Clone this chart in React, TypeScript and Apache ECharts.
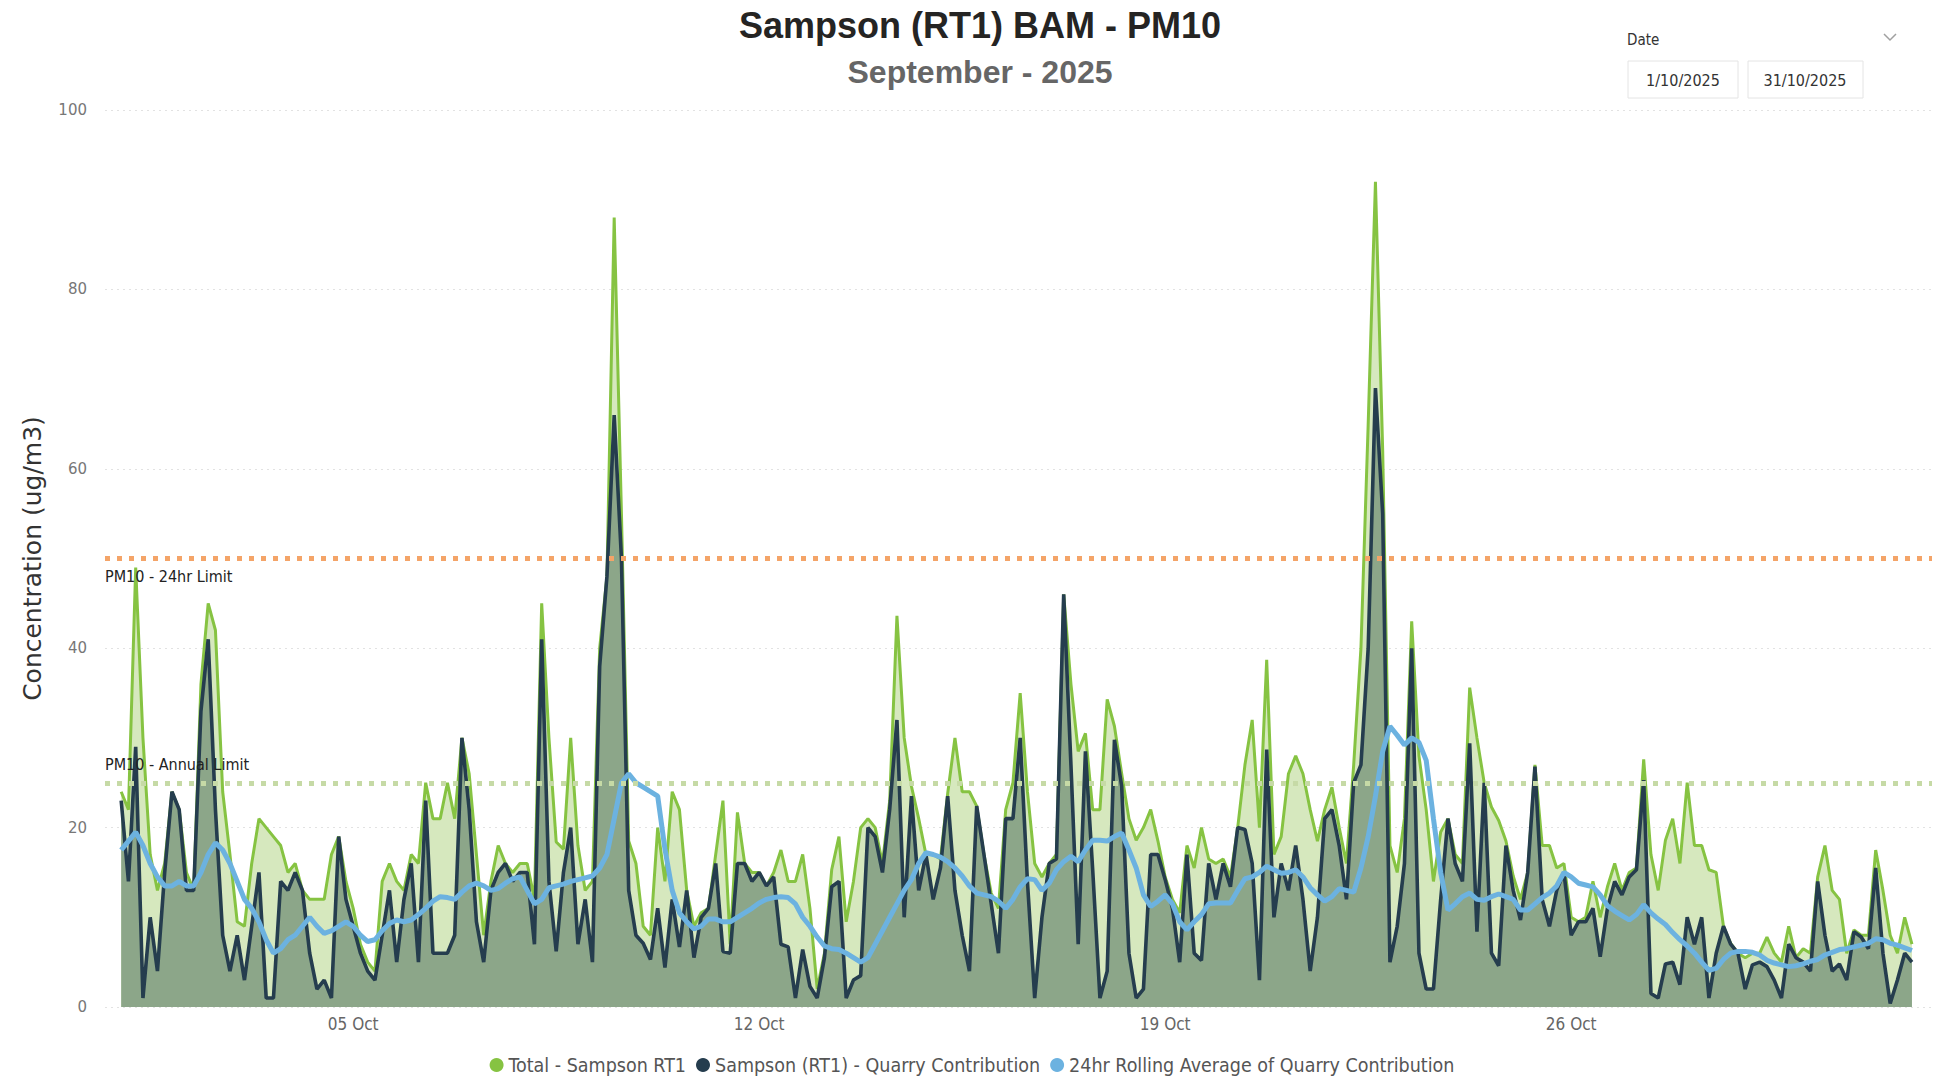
import React, { useEffect, useRef } from "react";
import * as echarts from "echarts";

// Hourly monitoring (sampled every 3 hours), 1 Oct 2025 00:00 onward
const STEP_HOURS = 3;

const totalValues = [
  24, 22, 49, 30, 17, 13, 16, 24,
  22, 15, 13, 36, 45, 42, 24, 17,
  9.5, 9, 16, 21, 20, 19, 18, 15,
  16, 13, 12, 12, 12, 17, 19, 14,
  11, 7, 5, 4, 14, 16, 14, 13,
  17, 16, 25, 21, 21, 25, 21, 30,
  26, 17, 8, 14, 18, 16, 15, 16,
  16, 12, 45, 30, 18.4, 17.6, 30, 18,
  13, 14, 40, 48, 88, 55, 18.5, 16,
  9, 8, 20, 14, 24, 22, 13, 9,
  10.5, 11, 17, 23, 7, 21.7, 16, 15,
  15, 13.5, 15, 17.5, 14, 14, 17, 11,
  2, 6, 15.3, 19, 9.5, 14, 20, 21,
  20, 16, 23, 43.6, 30, 24.6, 21, 17,
  17, 16.5, 23.8, 30, 24, 24, 22.4, 17,
  12.7, 11, 22, 25, 35, 24, 16, 14.5,
  16, 17, 46, 36, 28.5, 30.5, 22, 22,
  34.3, 31.3, 26, 21, 18.6, 20, 22, 18.5,
  14.5, 12, 10.5, 18, 15.5, 20, 16.5, 16,
  16.5, 14.5, 20, 27, 32, 20, 38.7, 17,
  19, 26, 28, 26, 22, 18.5, 22, 24.5,
  20, 16, 27, 40, 65, 92, 62, 18,
  15, 21, 43, 28, 22, 14, 19.5, 21,
  17, 16, 35.6, 30, 25, 22.3, 20.8, 18.5,
  14.6, 12, 15, 27, 18, 18, 15.5, 16,
  10, 9.5, 10, 14, 10, 13.4, 16, 13,
  15, 15.5, 27.6, 17, 13, 18.6, 21, 16,
  25, 18, 18, 15.3, 15, 9, 7.1, 6,
  5.5, 6, 6, 7.8, 6, 5, 9, 5.5,
  6.5, 6, 14.5, 18, 13, 12, 6, 8.6,
  8, 8, 17.5, 13, 8, 6, 10, 7,
];

const quarryValues = [
  23, 14, 29, 1, 10, 4, 15, 24,
  22, 13, 13, 33, 41, 22, 8, 4,
  8, 3, 9, 15, 1, 1, 14, 13,
  15, 13, 6, 2, 3, 1, 19, 12,
  9, 6, 4, 3, 8, 13, 5, 12,
  16, 5, 23, 6, 6, 6, 8, 30,
  22, 9.5, 5, 13, 15, 16, 14, 15,
  15, 7, 41, 14, 6.2, 15, 20, 7,
  12, 5, 38, 48, 66, 50, 13, 8,
  7.1, 5.3, 11, 4.4, 12, 6.7, 13, 5.5,
  10, 11, 16, 6.2, 6, 16, 16, 14,
  15, 13.5, 14.5, 7, 6.7, 1, 6.4, 2.3,
  1, 5.5, 13.4, 14, 1, 3, 3.5, 20,
  19, 15, 22, 32, 10, 23.5, 13, 17,
  12, 15.5, 23.5, 13, 8, 4, 22.4, 17,
  11.5, 6, 21, 21, 30, 14, 1, 10,
  16, 16.5, 46, 27, 7, 28.5, 15.3, 1,
  4, 29.8, 24.6, 6, 1, 2, 17, 17,
  14.2, 11, 5, 17, 6, 5.2, 16, 12,
  16, 13.4, 20, 19.8, 16, 3, 28.7, 10,
  16, 13, 18, 12, 4, 10, 21, 22,
  18, 12, 25, 27, 40, 69, 55, 5,
  9, 16, 40, 6, 2, 2, 12, 21,
  16, 14, 29.4, 8.4, 25, 6, 4.6, 18,
  13, 9.7, 15, 26.8, 12, 9, 13, 15,
  8, 9.5, 9.5, 11, 5.6, 11, 14, 12.5,
  14.5, 15.3, 25.3, 1.5, 1, 4.8, 5, 2.5,
  10, 7, 10, 1, 6, 9, 7, 6,
  2, 4.7, 5, 4.5, 3, 1, 7, 5.5,
  5, 4, 14, 8, 4, 4.8, 3, 8.4,
  7.8, 6.5, 15.5, 6, 0.4, 3, 6, 5,
];

const rollingAvgValues = [
  17.5, 18.5, 19.5, 18, 16, 14.5, 13.5, 13.5,
  14, 13.5, 13.5, 15, 17, 18.3, 17.5, 16,
  14, 12, 11, 9.5, 7.5, 6, 6.5, 7.5,
  8, 9, 10, 9, 8.2, 8.5, 9, 9.5,
  9, 8, 7.3, 7.5, 8.5, 9.3, 9.7, 9.5,
  9.7, 10.3, 11, 11.8, 12.3, 12.2, 12, 12.8,
  13.5, 13.8, 13.5, 13, 13.2, 13.8, 14.3, 14.5,
  13, 11.5, 12, 13.3, 13.5, 13.7, 14, 14.2,
  14.4, 14.6, 15.5, 17, 21, 25, 26, 25,
  24.5, 24, 23.5, 17.6, 13, 10.5, 9.5, 8.7,
  9, 9.8, 9.8, 9.5, 9.5, 10, 10.5, 11,
  11.6, 12, 12.2, 12.3, 12.2, 11.5, 10, 9,
  7.8, 6.8, 6.5, 6.4, 6, 5.5, 5, 5.5,
  7, 8.5, 10, 11.5, 13, 14.2, 16, 17.2,
  17, 16.7, 16.2, 15.5, 14.6, 13.5, 12.7, 12.5,
  12.3, 11.8, 11, 12, 13.4, 14.3, 14.2, 13,
  13.8, 15.3, 16.2, 16.8, 16.2, 17.5, 18.6, 18.6,
  18.5, 19, 19.4, 17.5, 15.5, 12.5, 11.2, 11.8,
  12.5, 11.5, 9.5, 8.6, 9.5, 10.3, 11.5, 11.6,
  11.6, 11.6, 13, 14.3, 14.5, 15, 15.7, 15.3,
  14.9, 15, 15.3, 14.5, 13.3, 12.5, 11.8, 12.3,
  13.2, 13, 12.8, 15.5, 19, 23.5, 28.5, 31.3,
  30.3, 29.2, 30, 29.5, 27.5, 21, 15, 10.8,
  11.5, 12.3, 12.7, 12, 11.9, 12.3, 12.6, 12.3,
  12, 10.8, 10.8, 11.5, 12.2, 12.7, 13.5, 15,
  14.5, 13.8, 13.6, 13.4, 12.5, 11.3, 10.7, 10.2,
  9.7, 10.3, 11.4, 10.5, 9.8, 9.2, 8.3, 7.5,
  6.8, 6, 5, 4.1, 4.3, 5.3, 6, 6.2,
  6.2, 6.1, 5.8, 5.2, 4.9, 4.7, 4.5, 4.6,
  4.8, 5.1, 5.3, 5.8, 6.1, 6.4, 6.5, 6.7,
  6.9, 7.1, 7.6, 7.5, 7.1, 6.9, 6.6, 6.3,
];

const xTickHours = [96, 264, 432, 600];
const xTickLabels = ["05 Oct", "12 Oct", "19 Oct", "26 Oct"];
const limit24hr = 50;
const limitAnnual = 25;

const seriesNames = [
  "Total - Sampson RT1",
  "Sampson (RT1) - Quarry Contribution",
  "24hr Rolling Average of Quarry Contribution",
];

const toPairs = (vals: number[]) => vals.map((v, i) => [i * STEP_HOURS, v]);

export default function App() {
  const ref = useRef<HTMLDivElement>(null);

  useEffect(() => {
    if (!ref.current) return;
    const chart = echarts.init(ref.current, null, { renderer: "svg" });
    const condensed = "DejaVu Sans Condensed, DejaVu Sans, sans-serif";
    chart.setOption({
      animation: false,
      backgroundColor: "#ffffff",
      grid: { left: 105, right: 12, top: 110, bottom: 73 },
      xAxis: {
        type: "value",
        min: -6.7,
        max: 749.3,
        axisLine: { show: false },
        axisTick: { show: false },
        splitLine: { show: false },
        axisLabel: {
          customValues: xTickHours,
          formatter: (v: number) => {
            const k = xTickHours.indexOf(v);
            return k >= 0 ? xTickLabels[k] : "";
          },
          color: "#666666",
          fontSize: 17,
          fontFamily: condensed,
          margin: 8,
        },
      },
      yAxis: {
        type: "value",
        min: 0,
        max: 100,
        interval: 20,
        axisLine: { show: false },
        axisTick: { show: false },
        axisLabel: {
          color: "#777777",
          fontSize: 15,
          fontFamily: "DejaVu Sans, sans-serif",
          margin: 18,
        },
        splitLine: {
          lineStyle: { color: "#e2e2e2", type: [2, 4], width: 1 },
        },
        name: "Concentration (ug/m3)",
        nameLocation: "middle",
        nameGap: 60,
        nameTextStyle: {
          fontSize: 25,
          color: "#333333",
          fontFamily: "DejaVu Sans, sans-serif",
        },
      },
      legend: {
        top: 1050,
        left: "center",
        icon: "circle",
        itemWidth: 14,
        itemHeight: 14,
        itemGap: 10,
        data: seriesNames,
        textStyle: { fontSize: 19.5, color: "#555555", fontFamily: condensed },
      },
      graphic: [
        {
          type: "text",
          x: 980,
          y: 25,
          style: {
            text: "Sampson (RT1) BAM - PM10",
            fontSize: 36,
            fontWeight: "bold",
            fontFamily: "Liberation Sans, Arial, sans-serif",
            fill: "#252423",
            align: "center",
            verticalAlign: "middle",
          },
        },
        {
          type: "text",
          x: 980,
          y: 72,
          style: {
            text: "September - 2025",
            fontSize: 32,
            fontWeight: "bold",
            fontFamily: "Liberation Sans, Arial, sans-serif",
            fill: "#666666",
            align: "center",
            verticalAlign: "middle",
          },
        },
        {
          type: "text",
          x: 1627,
          y: 40,
          style: {
            text: "Date",
            fontSize: 15,
            fontFamily: condensed,
            fill: "#333333",
            align: "left",
            verticalAlign: "middle",
          },
        },
        {
          type: "polyline",
          shape: { points: [[1884, 34], [1890, 40], [1896, 34]] },
          style: { stroke: "#a0a0a0", lineWidth: 1.5, fill: "none" },
        },
        {
          type: "rect",
          shape: { x: 1628, y: 61, width: 110, height: 37 },
          style: { fill: "#ffffff", stroke: "#e4e4e4", lineWidth: 1 },
        },
        {
          type: "text",
          x: 1683,
          y: 80,
          style: {
            text: "1/10/2025",
            fontSize: 16,
            fontFamily: condensed,
            fill: "#333333",
            align: "center",
            verticalAlign: "middle",
          },
        },
        {
          type: "rect",
          shape: { x: 1748, y: 61, width: 115, height: 37 },
          style: { fill: "#ffffff", stroke: "#e4e4e4", lineWidth: 1 },
        },
        {
          type: "text",
          x: 1805,
          y: 80,
          style: {
            text: "31/10/2025",
            fontSize: 16,
            fontFamily: condensed,
            fill: "#333333",
            align: "center",
            verticalAlign: "middle",
          },
        },
      ],
      series: [
        {
          name: seriesNames[0],
          type: "line",
          data: toPairs(totalValues),
          symbol: "none",
          showSymbol: false,
          z: 2,
          itemStyle: { color: "#86c342" },
          lineStyle: { color: "#86c342", width: 3 },
          areaStyle: { color: "#d6e8be", opacity: 1 },
        },
        {
          name: seriesNames[1],
          type: "line",
          data: toPairs(quarryValues),
          symbol: "none",
          showSymbol: false,
          z: 3,
          itemStyle: { color: "#253d4e" },
          lineStyle: { color: "#253d4e", width: 3.6 },
          areaStyle: { color: "#8ca689", opacity: 1 },
          markLine: {
            silent: true,
            symbol: "none",
            data: [
              {
                yAxis: limit24hr,
                lineStyle: { color: "#f4a468", type: [5, 7], width: 5 },
                label: {
                  show: true,
                  position: "insideStartBottom",
                  formatter: "PM10 - 24hr Limit",
                  color: "#222222",
                  fontSize: 16,
                  fontFamily: "DejaVu Sans Condensed, DejaVu Sans, sans-serif",
                  distance: [0, 10],
                },
              },
              {
                yAxis: limitAnnual,
                lineStyle: { color: "#c6daa6", type: [5, 7], width: 5 },
                label: {
                  show: true,
                  position: "insideStartTop",
                  formatter: "PM10 - Annual Limit",
                  color: "#222222",
                  fontSize: 16,
                  fontFamily: "DejaVu Sans Condensed, DejaVu Sans, sans-serif",
                  distance: [0, 10],
                },
              },
            ],
          },
        },
        {
          name: seriesNames[2],
          type: "line",
          data: toPairs(rollingAvgValues),
          symbol: "none",
          showSymbol: false,
          z: 4,
          itemStyle: { color: "#6cb2e0" },
          lineStyle: { color: "#6cb2e0", width: 5 },
        },
      ],
    });
    return () => chart.dispose();
  }, []);

  return (
    <div
      ref={ref}
      style={{
        position: "absolute",
        left: 0,
        top: 0,
        width: 1944,
        height: 1080,
        background: "#ffffff",
      }}
    />
  );
}
